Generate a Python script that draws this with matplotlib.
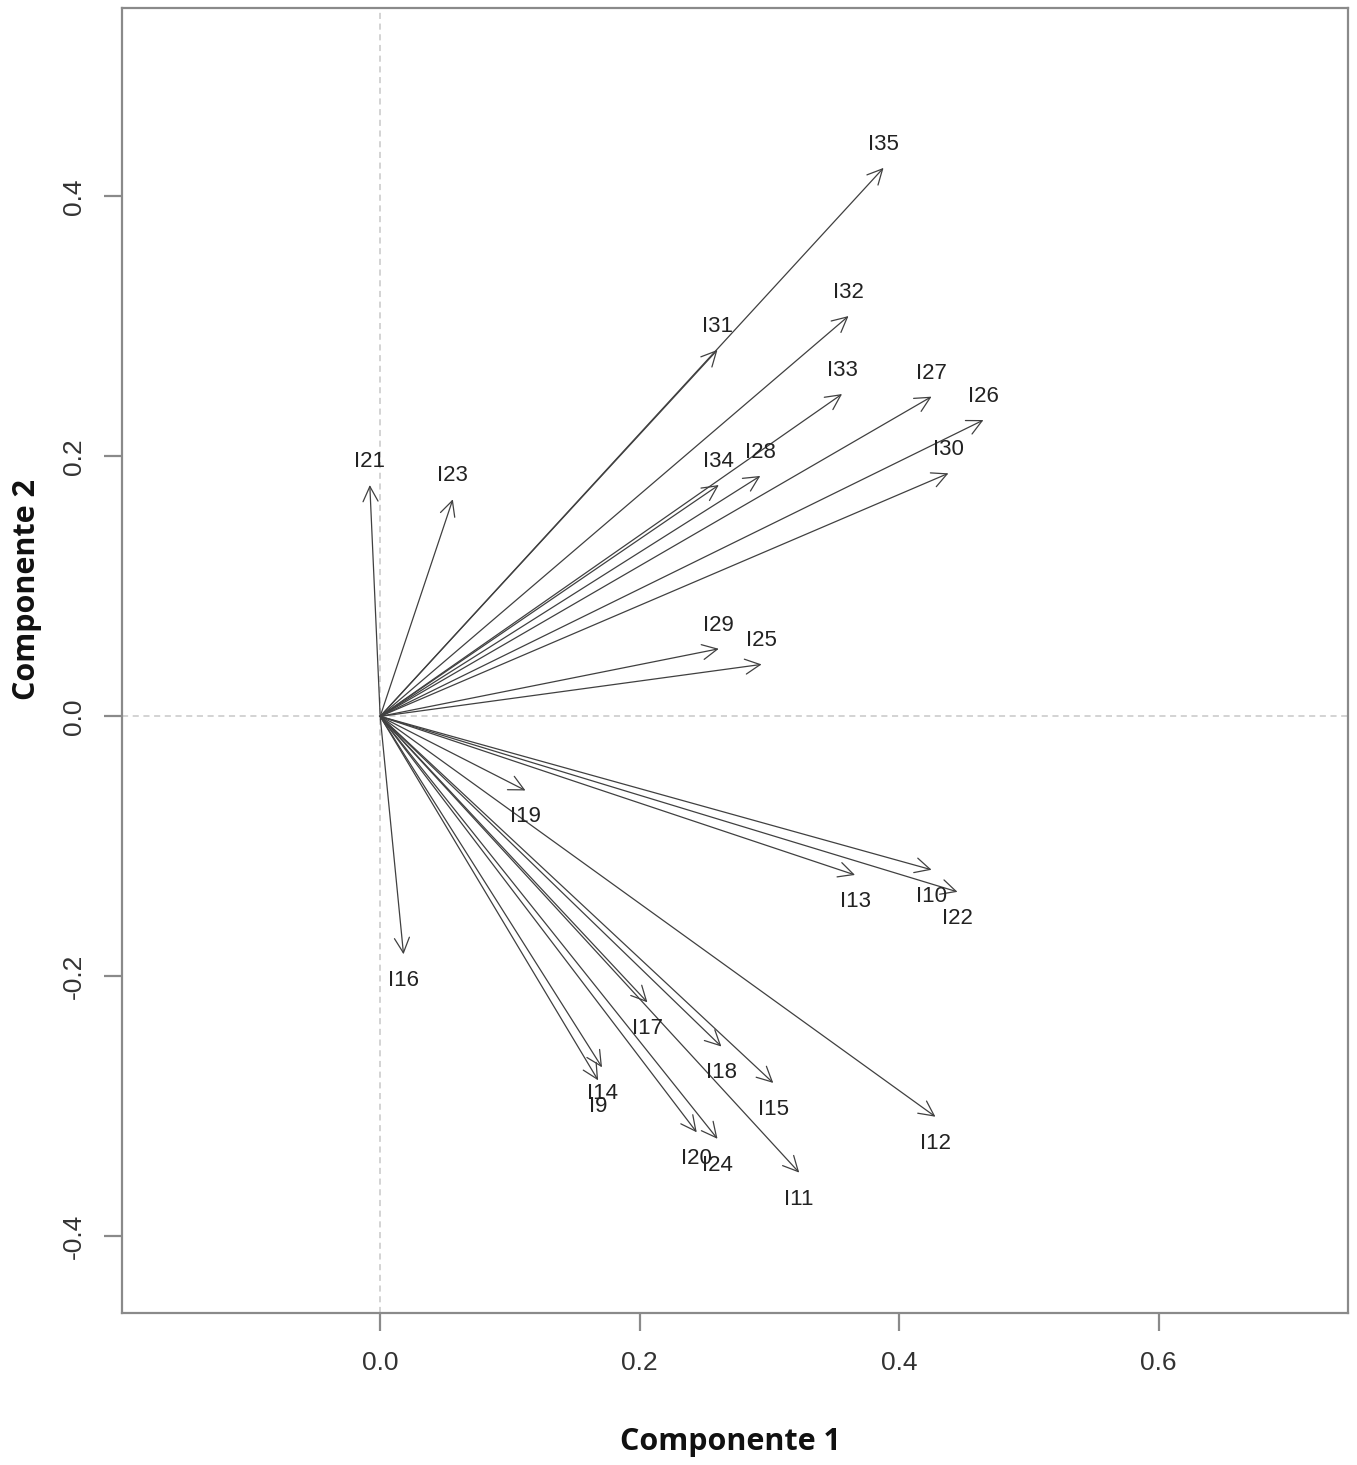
import matplotlib
matplotlib.use("Agg")
import matplotlib.pyplot as plt
from matplotlib.patches import FancyArrowPatch

labels = ["I35", "I31", "I32", "I33", "I27", "I26", "I30", "I28", "I34",
          "I21", "I23", "I29", "I25", "I19", "I13", "I10", "I22", "I16",
          "I17", "I18", "I15", "I12", "I14", "I9", "I20", "I24", "I11"]
pc1 = [0.388, 0.260, 0.361, 0.356, 0.425, 0.465, 0.438, 0.293, 0.261,
       -0.008, 0.056, 0.261, 0.294, 0.112, 0.366, 0.425, 0.445, 0.018,
       0.206, 0.263, 0.303, 0.428, 0.171, 0.168, 0.244, 0.260, 0.323]
pc2 = [0.422, 0.282, 0.308, 0.248, 0.246, 0.228, 0.187, 0.185, 0.178,
       0.178, 0.167, 0.052, 0.040, -0.057, -0.122, -0.118, -0.135, -0.183,
       -0.220, -0.254, -0.282, -0.308, -0.270, -0.280, -0.320, -0.325, -0.351]

xticks = [0.0, 0.2, 0.4, 0.6]
yticks = [-0.4, -0.2, 0.0, 0.2, 0.4]

W, H = 1357, 1465
fig = plt.figure(figsize=(W / 100, H / 100), dpi=100)
ax = fig.add_axes([122 / W, 1 - 1313 / H, (1348 - 122) / W, (1313 - 8) / H])
ax.set_xlim(-0.199, 0.746)
ax.set_ylim(-0.459, 0.545)

ax.axhline(0, color="#c8c8c8", lw=1.1, ls=(0, (4, 3)), zorder=0)
ax.axvline(0, color="#c8c8c8", lw=1.1, ls=(0, (4, 3)), zorder=0)

for lab, x, y in zip(labels, pc1, pc2):
    arr = FancyArrowPatch((0, 0), (x, y),
                          arrowstyle="->,head_length=0.6,head_width=0.3",
                          mutation_scale=18, shrinkA=0, shrinkB=0,
                          color="#404040", lw=0.9)
    ax.add_patch(arr)
    off = 17 if y >= 0 else -19
    ax.annotate(lab, (x, y), xytext=(0, off), textcoords="offset points",
                ha="center", va="center", fontsize=16,
                family="Liberation Sans", color="#222222")

for s in ax.spines.values():
    s.set_color("#8a8a8a")
    s.set_linewidth(1.6)

ax.set_xticks(xticks)
ax.set_xticklabels([f"{v:.1f}" for v in xticks])
ax.set_yticks(yticks)
ax.set_yticklabels([f"{v:.1f}" for v in yticks], rotation=90, va="center")
ax.tick_params(axis="both", length=13, width=1.6, color="#8a8a8a",
               labelsize=19, labelcolor="#333333")
ax.tick_params(axis="x", pad=14)
ax.tick_params(axis="y", pad=13)
for t in ax.get_xticklabels() + ax.get_yticklabels():
    t.set_family("Liberation Sans")

fig.text(730 / W, 1 - 1442 / H, "Componente 1", ha="center", va="center",
         fontsize=22, fontweight="bold", family="Open Sans", color="#111111")
fig.text(27 / W, 1 - 590 / H, "Componente 2", ha="center", va="center",
         rotation=90, fontsize=22, fontweight="bold", family="Open Sans",
         color="#111111")

fig.savefig("out.png", dpi=100)
